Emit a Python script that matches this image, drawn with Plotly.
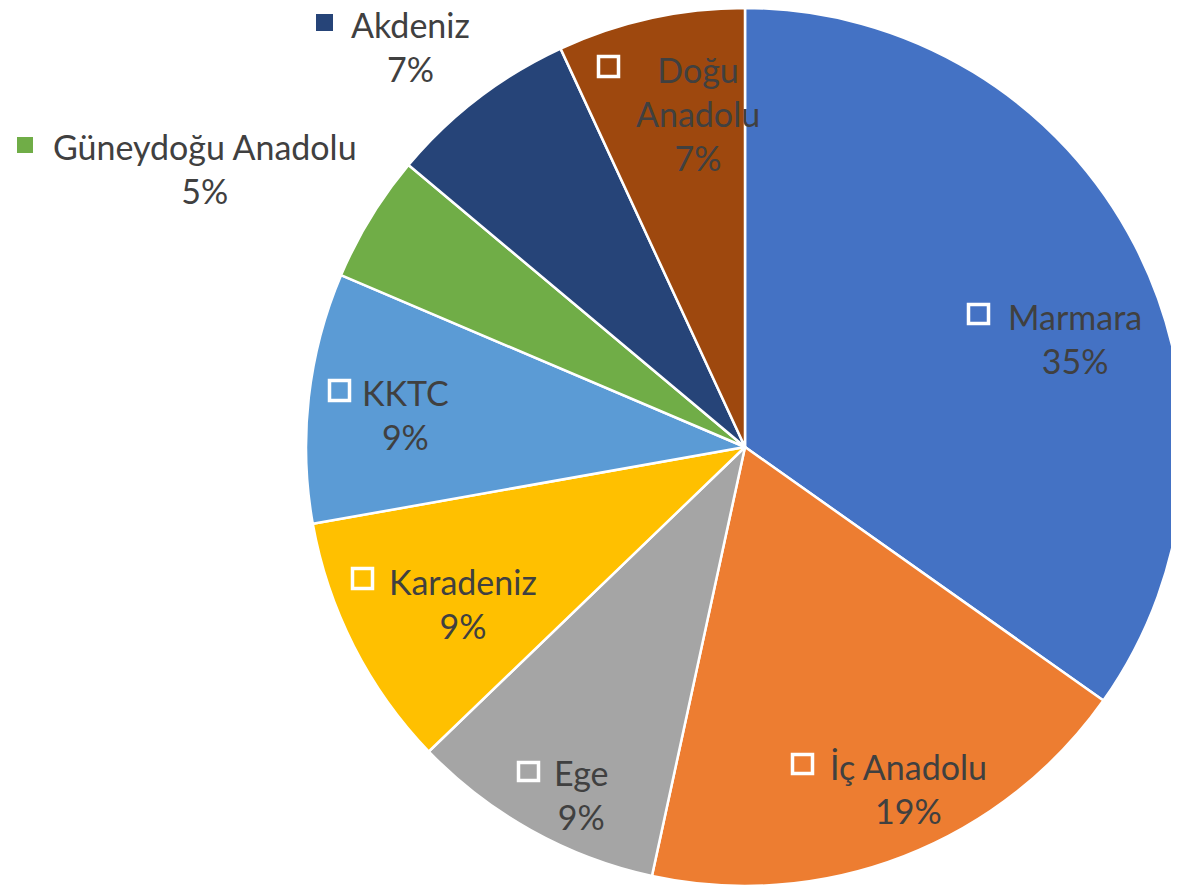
import plotly.graph_objects as go

# figure size; the page body adds an 8px margin, so the figure is offset by 8px
OFF = 8
W, H = 1180, 881

# ---- data ----
regions = ["Marmara", "İç Anadolu", "Ege", "Karadeniz", "KKTC",
           "Güneydoğu Anadolu", "Akdeniz", "Doğu Anadolu"]
shares = [34.8, 18.6, 9.4, 9.4, 9.2, 4.7, 7.0, 6.9]
colors = ["#4472C4", "#ED7D31", "#A5A5A5", "#FFC000", "#5B9BD5",
          "#70AD47", "#264478", "#9E480E"]
label_lines = ["Marmara", "İç Anadolu", "Ege", "Karadeniz", "KKTC",
               "Güneydoğu Anadolu", "Akdeniz", "Doğu<br>Anadolu"]

# ---- label layout (screen pixels): centre x, first baseline, last baseline ----
label_pos = [(1075, 327, 373), (908, 776, 823), (581, 783, 828), (463, 592, 637),
             (405, 403, 448), (205, 157, 202), (410, 36, 80), (698, 79, 170)]
# legend-key squares (screen pixels): x0, y0, x1, y1 ; outside = filled
key_pos = [(967, 303, 990, 325), (791, 753, 814, 775), (517, 761, 540, 782),
           (351, 567, 374, 590), (328, 379, 351, 402), (17, 137, 33, 153),
           (316, 14, 333, 31), (597, 55, 620, 78)]
outside = [False, False, False, False, False, True, True, False]

# pie placement (screen pixels): centre and radius
PIE_CX, PIE_CY, PIE_R = 745, 447, 439

FONT = "Lato, 'Open Sans', sans-serif"
FS = 34
TXT = "#404040"

total = sum(shares)
pcts = [f"{round(v / total * 100)}%" for v in shares]


def px(x):
    return (x - OFF) / W


def py(y):
    return 1 - (y - OFF) / H


fig = go.Figure(go.Pie(
    labels=regions, values=shares, sort=False, direction="clockwise",
    rotation=0, textinfo="none", hoverinfo="label+percent",
    marker=dict(colors=colors, line=dict(color="white", width=2.5)),
    domain=dict(x=[px(PIE_CX - PIE_R), px(PIE_CX + PIE_R)],
                y=[py(PIE_CY + PIE_R), py(PIE_CY - PIE_R)]),
    showlegend=False,
))

annotations = []
for name, pct, (cx, b1, b2) in zip(label_lines, pcts, label_pos):
    ymid = (b1 + b2) / 2 - 0.33 * FS
    annotations.append(dict(
        x=px(cx), y=py(ymid), xref="paper", yref="paper",
        text=f"{name}<br>{pct}", showarrow=False, align="center",
        xanchor="center", yanchor="middle",
        font=dict(family=FONT, size=FS, color=TXT),
    ))

shapes = []
for col, (x0, y0, x1, y1), out in zip(colors, key_pos, outside):
    if out:
        shapes.append(dict(type="rect", xref="paper", yref="paper",
                           x0=px(x0), x1=px(x1), y0=py(y0), y1=py(y1),
                           fillcolor=col, line=dict(width=0)))
    else:
        shapes.append(dict(type="rect", xref="paper", yref="paper",
                           x0=px(x0 + 1.5), x1=px(x1 - 1.5),
                           y0=py(y0 + 1.5), y1=py(y1 - 1.5),
                           fillcolor="rgba(0,0,0,0)",
                           line=dict(color="white", width=3.5)))

fig.update_layout(
    width=W, height=H, margin=dict(l=0, r=0, t=0, b=0),
    paper_bgcolor="white", plot_bgcolor="white",
    annotations=annotations, shapes=shapes,
)

fig.write_html("out.html")
